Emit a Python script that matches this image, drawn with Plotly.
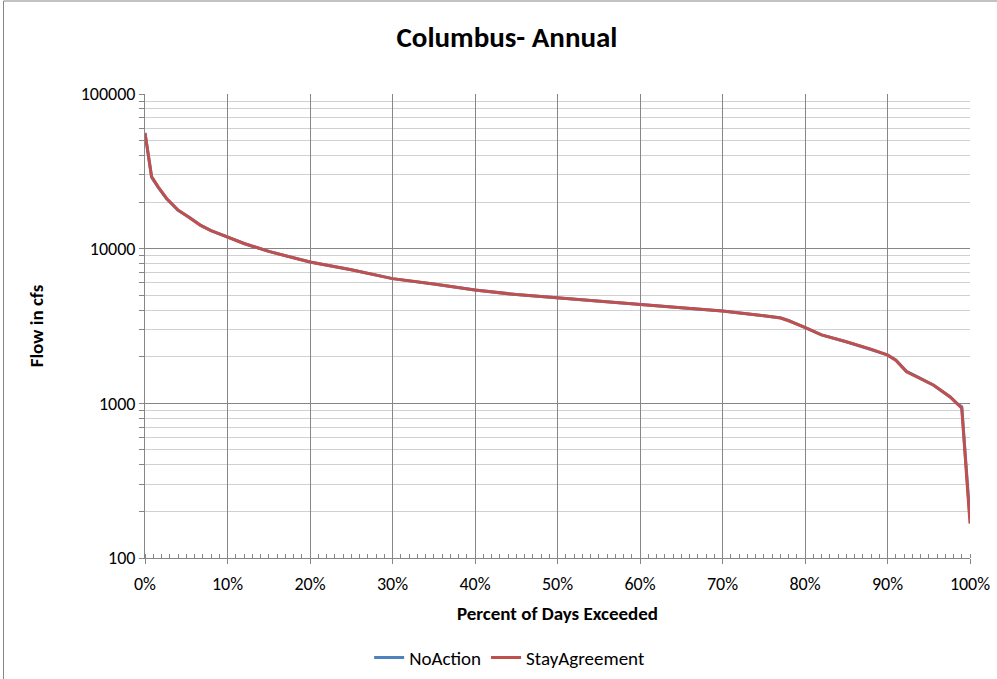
import plotly.graph_objects as go

# Flow-duration data: percent of days exceeded (fraction) vs. flow in cfs
pct_exceeded = [0.000, 0.008, 0.016, 0.026, 0.040, 0.055, 0.067, 0.080, 0.099, 0.120,
                0.150, 0.188, 0.200, 0.250, 0.300, 0.350, 0.400, 0.450, 0.500, 0.550,
                0.600, 0.650, 0.700, 0.730, 0.750, 0.770, 0.780, 0.800, 0.820, 0.850,
                0.880, 0.900, 0.910, 0.923, 0.940, 0.956, 0.976, 0.984, 0.990, 1.000]

stay_agreement = [56000, 29200, 25100, 21200, 17800, 15800, 14200, 13100, 11950, 10800,
                  9600, 8450, 8200, 7300, 6400, 5900, 5400, 5050, 4800, 4550,
                  4320, 4150, 3950, 3800, 3680, 3560, 3420, 3100, 2770, 2500,
                  2240, 2050, 1900, 1600, 1450, 1310, 1100, 1000, 930, 167]

no_action = [56000, 29000, 24900, 21100, 17700, 15800, 14200, 13100, 11950, 10800,
             9600, 8450, 8200, 7300, 6400, 5900, 5400, 5050, 4800, 4550,
             4320, 4150, 3950, 3800, 3690, 3580, 3440, 3100, 2770, 2500,
             2240, 2060, 1910, 1610, 1450, 1310, 1100, 1000, 950, 180]

y_tick_vals = [100, 1000, 10000, 100000]
y_tick_text = ["100", "1000", "10000", "100000"]
y_minor_vals = [m * 10 ** d for d in (2, 3, 4) for m in range(2, 10)]

FONT = "Carlito, Calibri, Lato, sans-serif"
AXIS_GREY = "#868686"

fig = go.Figure()
fig.add_trace(go.Scatter(x=pct_exceeded, y=no_action, mode="lines", name="NoAction",
                         line=dict(color="#4F81BD", width=3)))
fig.add_trace(go.Scatter(x=pct_exceeded, y=stay_agreement, mode="lines", name="StayAgreement",
                         line=dict(color="#C0504D", width=3)))

fig.update_layout(
    width=997, height=679,
    margin=dict(l=145, r=27, t=94, b=121, autoexpand=False),
    paper_bgcolor="white", plot_bgcolor="white",
    font=dict(family=FONT, size=18, color="black"),
    title=dict(text="<b>Columbus- Annual</b>", x=0.5085, xanchor="center",
               y=0.945, yanchor="middle", font=dict(size=29, family=FONT)),
    showlegend=True,
    legend=dict(orientation="h", x=0.442, xanchor="center", y=-0.215, yanchor="middle",
                font=dict(size=19, family=FONT), traceorder="normal", itemwidth=30),
    xaxis=dict(
        range=[0, 1], tickformat=".0%", dtick=0.1, tick0=0,
        showgrid=True, gridcolor=AXIS_GREY, gridwidth=1,
        showline=True, linecolor=AXIS_GREY, linewidth=1, mirror=False,
        ticks="outside", ticklen=5, tickcolor=AXIS_GREY, ticklabelstandoff=4,
        minor=dict(dtick=0.01, ticks="inside", ticklen=4, tickcolor=AXIS_GREY, showgrid=False),
        zeroline=False, automargin=False,
        title=dict(text="<b>Percent of Days Exceeded</b>", font=dict(size=19), standoff=13),
    ),
    yaxis=dict(
        type="log", range=[2, 5],
        tickmode="array", tickvals=y_tick_vals, ticktext=y_tick_text,
        showgrid=True, gridcolor=AXIS_GREY, gridwidth=1,
        showline=True, linecolor=AXIS_GREY, linewidth=1,
        ticks="outside", ticklen=5, tickcolor=AXIS_GREY,
        minor=dict(tickmode="array", tickvals=y_minor_vals, ticks="outside", ticklen=5,
                   tickcolor=AXIS_GREY, showgrid=True, gridcolor="#D0D0D0", gridwidth=1),
        zeroline=False, automargin=False,
        title=dict(text="<b>Flow in cfs</b>", font=dict(size=19), standoff=32),
    ),
)

# Chart-area border (top and left edges visible)
fig.add_shape(type="rect", xref="paper", yref="paper",
              x0=(3.5 - 145) / 825, x1=(1005 - 145) / 825,
              y0=(558 - 690) / 464, y1=(558 - 1) / 464,
              line=dict(color=AXIS_GREY, width=1), fillcolor="rgba(0,0,0,0)", layer="below")

fig.write_html("out.html")
